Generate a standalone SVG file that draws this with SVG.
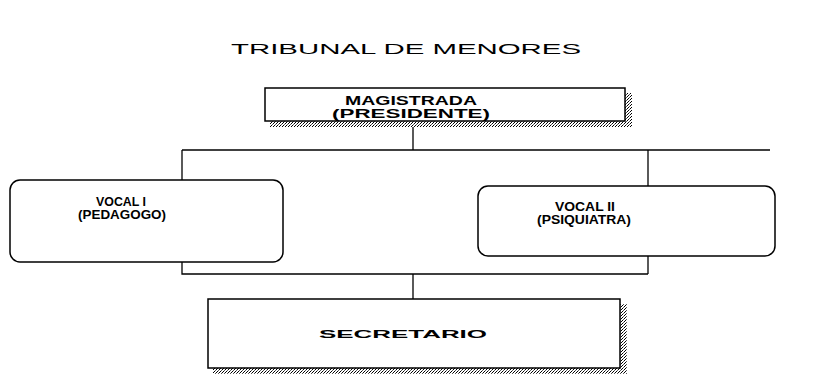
<svg xmlns="http://www.w3.org/2000/svg" width="817" height="378" viewBox="0 0 817 378">
<defs>
<pattern id="hatch" width="3" height="3" patternUnits="userSpaceOnUse">
<rect width="3" height="3" fill="#fff"/>
<rect x="0" y="0" width="1" height="1" fill="#000"/>
<rect x="2" y="1" width="1" height="1" fill="#555"/>
<rect x="1" y="2" width="1" height="1" fill="#000"/>
</pattern>
</defs>
<style>
.box{fill:#fff;stroke:#000;stroke-width:1.5}
.shadow{fill:url(#hatch);stroke:none}
.lbl{font-family:"Liberation Sans",Arial,sans-serif;font-size:12px;font-weight:bold;fill:#000;text-anchor:middle}
.title{font-family:"Liberation Sans",Arial,sans-serif;font-size:15px;fill:#000}
.conn{fill:none;stroke:#000;stroke-width:1.3}
</style>
<rect width="817" height="378" fill="#fff"/>
<text class="title" x="231" y="54" textLength="350" lengthAdjust="spacingAndGlyphs">TRIBUNAL DE MENORES</text>
<g id="connectors">
<path class="conn" d="M413,121 V150"/>
<path class="conn" d="M182,150 H770"/>
<path class="conn" d="M182,150 V180"/>
<path class="conn" d="M648,150 V186"/>
<path class="conn" d="M182,262 V274 H648"/>
<path class="conn" d="M648,256 V274"/>
<path class="conn" d="M413,274 V299"/>
</g>
<g id="magistrada">
<rect class="shadow" x="625" y="93" width="7" height="34"/>
<rect class="shadow" x="270" y="121" width="362" height="6"/>
<rect class="box" x="265" y="88" width="360" height="33"/>
<text class="lbl" x="411" y="105" textLength="132" lengthAdjust="spacingAndGlyphs">MAGISTRADA</text>
<text class="lbl" x="411" y="118" textLength="158" lengthAdjust="spacingAndGlyphs">(PRESIDENTE)</text>
</g>
<g id="vocal1">
<rect class="box" x="10" y="180" width="273" height="82" rx="10"/>
<text class="lbl" x="121" y="206" textLength="50" lengthAdjust="spacingAndGlyphs">VOCAL I</text>
<text class="lbl" x="122" y="219" textLength="88" lengthAdjust="spacingAndGlyphs">(PEDAGOGO)</text>
</g>
<g id="vocal2">
<rect class="box" x="478" y="186" width="297" height="70" rx="10"/>
<text class="lbl" x="585" y="211" textLength="60" lengthAdjust="spacingAndGlyphs">VOCAL II</text>
<text class="lbl" x="584" y="224" textLength="94" lengthAdjust="spacingAndGlyphs">(PSIQUIATRA)</text>
</g>
<g id="secretario">
<rect class="shadow" x="620" y="304" width="7" height="70"/>
<rect class="shadow" x="213" y="368" width="414" height="6"/>
<rect class="box" x="208" y="299" width="412" height="69"/>
<text class="lbl" x="403" y="338" style="font-size:11px" textLength="168" lengthAdjust="spacingAndGlyphs">SECRETARIO</text>
</g>
</svg>
